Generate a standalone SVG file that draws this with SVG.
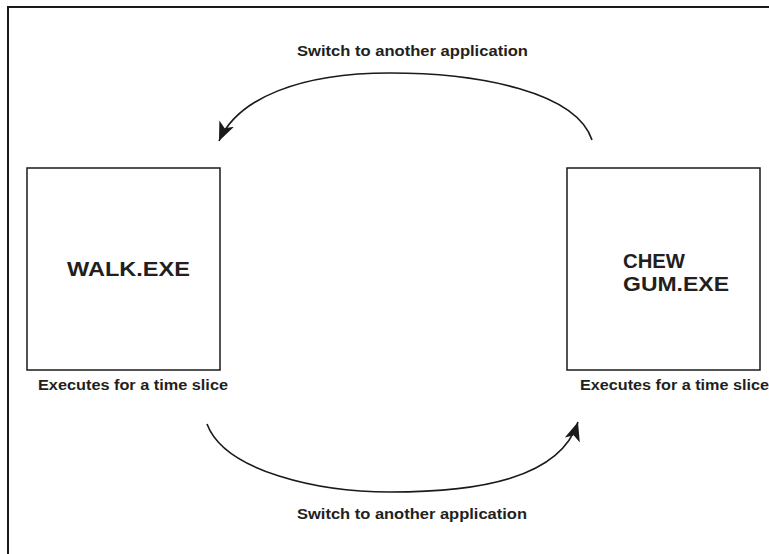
<svg xmlns="http://www.w3.org/2000/svg" width="769" height="554" viewBox="0 0 769 554">
  <style>
    .frame { fill: none; stroke: #1a1a1a; stroke-width: 2; }
    .box { fill: #ffffff; stroke: #1a1a1a; stroke-width: 1.5; }
    .name { font-family: "Liberation Sans", Arial, sans-serif; font-weight: bold; font-size: 20.5px; fill: #231f20; }
    .label { font-family: "Liberation Sans", Arial, sans-serif; font-weight: bold; font-size: 14.5px; fill: #231f20; }
    .link { fill: none; stroke: #1a1a1a; stroke-width: 1.6; }
  </style>
  <defs>
    <marker id="arrow" markerUnits="userSpaceOnUse" markerWidth="22" markerHeight="18" refX="19" refY="8" orient="auto">
      <path d="M0,0 L19,8 L0,16 L5,8 Z" fill="#1a1a1a"/>
    </marker>
  </defs>

  <rect width="769" height="554" fill="#ffffff"/>

  <!-- outer frame, open on the right and bottom -->
  <path class="frame" d="M8,554 L8,7 L769,7"/>

  <g id="walk">
    <rect class="box" x="27" y="168" width="193" height="202"/>
    <text class="name" x="67" y="276" textLength="123" lengthAdjust="spacingAndGlyphs">WALK.EXE</text>
    <text class="label" x="38" y="390" textLength="190" lengthAdjust="spacingAndGlyphs">Executes for a time slice</text>
  </g>

  <g id="chewgum">
    <rect class="box" x="567" y="168" width="193" height="202"/>
    <text class="name" x="623" y="268" textLength="62" lengthAdjust="spacingAndGlyphs">CHEW</text>
    <text class="name" x="623" y="291" textLength="106" lengthAdjust="spacingAndGlyphs">GUM.EXE</text>
    <text class="label" x="580" y="390" textLength="189" lengthAdjust="spacingAndGlyphs">Executes for a time slice</text>
  </g>

  <g id="connectors">
    <path class="link" marker-end="url(#arrow)" d="M592,140 C576,92 480,73 390,73 C300,73 238,98 219,141"/>
    <text class="label" x="297" y="56" textLength="231" lengthAdjust="spacingAndGlyphs">Switch to another application</text>
    <path class="link" marker-end="url(#arrow)" d="M207,424 C225,472 320,492 390,492 C480,492 560,478 578,422"/>
    <text class="label" x="297" y="519" textLength="230" lengthAdjust="spacingAndGlyphs">Switch to another application</text>
  </g>
</svg>
